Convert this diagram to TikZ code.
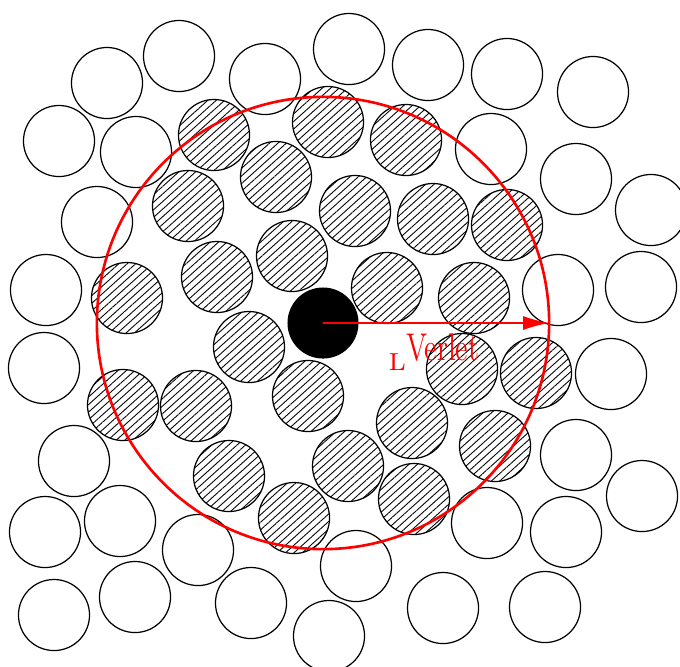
\documentclass[tikz,border=0pt]{standalone}
\usetikzlibrary{arrows.meta,patterns.meta}
\begin{document}
\begin{tikzpicture}[x=0.01cm, y=-0.01cm, line join=round, line cap=round,
	ball/.style={draw, line width=0.35pt},
	hatched/.style={ball, pattern={Lines[angle=42, distance=1.6pt, line width=0.25pt]}}]
	\def\rr{0.355cm}
	\useasboundingbox (0,0) rectangle (680,666);
	% free particles
	\foreach \x/\y in {107/83, 179/56, 265/79, 349/49, 428/65, 507/74, 593/92, 59/141, 136/152,
		491/149, 576/179, 651/210, 97/222, 46/290, 558/290, 641/287, 44/368, 611/374,
		74/461, 576/455, 642/496, 45/532, 120/521, 198/550, 487/523, 566/532, 54/615,
		135/597, 251/603, 356/566, 443/608, 545/607, 329/636}
	\draw[ball] (\x,\y) circle (\rr);
	% neighbours in the list
	\foreach \x/\y in {214/135, 328/122, 406/140, 276/177, 188/206, 355/211, 433/219, 507/225,
		292/256, 217/277, 387/288, 474/298, 127/298, 249/347, 308/396, 462/369, 536/373,
		123/405, 196/406, 412/423, 495/446, 229/476, 348/466, 414/499, 294/518}
	\draw[hatched] (\x,\y) circle (\rr);
	\node[circle, fill=black, minimum size=0.71cm, inner sep=0pt] (ctr) at (323,323) {};
	\draw[red, line width=0.75pt] (ctr.center) circle (2.26cm);
	\coordinate (rv) at (549,323);
	\draw[red, line width=0.3pt, -{Latex[length=0.26cm, width=0.14cm]}] (ctr.center) -- (rv);
	\node[red, anchor=base west, inner sep=0pt] (lbl) at (388,370)
		{{\scriptsize L}\raisebox{2.8pt}{\fontsize{11}{13}\selectfont\scalebox{0.74}[1]{Verlet}}};
\end{tikzpicture}
\end{document}
